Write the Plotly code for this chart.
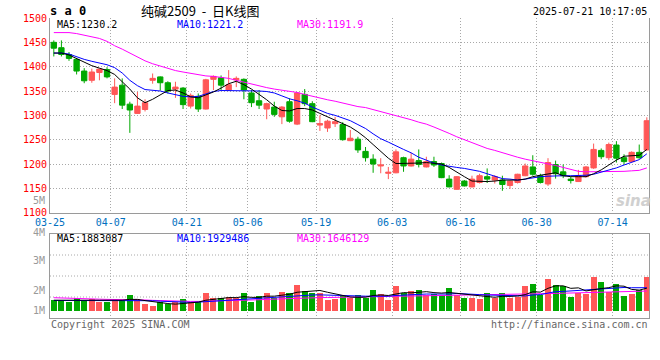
import plotly.graph_objects as go

# ---------------- data ----------------
trade_dates = ["03-25", "03-26", "03-27", "03-28", "03-31", "04-01", "04-02", "04-03",
               "04-07", "04-08", "04-09", "04-10", "04-11", "04-14", "04-15", "04-16",
               "04-17", "04-18", "04-21", "04-22", "04-23", "04-24", "04-25", "04-28",
               "04-29", "04-30", "05-06", "05-07", "05-08", "05-09", "05-12", "05-13",
               "05-14", "05-15", "05-16", "05-19", "05-20", "05-21", "05-22", "05-23",
               "05-26", "05-27", "05-28", "05-29", "05-30", "06-03", "06-04", "06-05",
               "06-06", "06-09", "06-10", "06-11", "06-12", "06-13", "06-16", "06-17",
               "06-18", "06-19", "06-20", "06-23", "06-24", "06-25", "06-26", "06-27",
               "06-30", "07-01", "07-02", "07-03", "07-04", "07-07", "07-08", "07-09",
               "07-10", "07-11", "07-14", "07-15", "07-16", "07-17", "07-18", "07-21"]
candle_dates = trade_dates[1:]

opens = [1450, 1439, 1425, 1415, 1391, 1372, 1388, 1394, 1343, 1362,
         1323, 1304, 1312, 1372, 1379, 1367, 1354, 1356, 1319, 1339,
         1313, 1374, 1377, 1352, 1373, 1374, 1346, 1330, 1313, 1317,
         1297, 1328, 1282, 1343, 1324, 1280, 1274, 1283, 1281, 1248,
         1251, 1226, 1210, 1196, 1181, 1182, 1213, 1196, 1207, 1194,
         1205, 1201, 1169, 1148, 1165, 1153, 1162, 1174, 1167, 1167,
         1156, 1162, 1176, 1194, 1176, 1159, 1199, 1184, 1169, 1164,
         1174, 1192, 1228, 1213, 1239, 1213, 1205, 1224, 1229]
highs = [1454, 1454, 1430, 1418, 1397, 1396, 1396, 1399, 1376, 1376,
         1328, 1348, 1333, 1386, 1380, 1370, 1369, 1358, 1345, 1345,
         1375, 1382, 1382, 1393, 1380, 1376, 1352, 1352, 1326, 1328,
         1319, 1335, 1348, 1354, 1329, 1300, 1291, 1297, 1286, 1270,
         1256, 1235, 1220, 1212, 1194, 1230, 1215, 1223, 1230, 1215,
         1215, 1203, 1177, 1175, 1167, 1176, 1180, 1191, 1177, 1176,
         1166, 1180, 1201, 1218, 1180, 1212, 1207, 1199, 1174, 1188,
         1196, 1242, 1232, 1244, 1247, 1220, 1226, 1240, 1296]
lows = [1421, 1421, 1412, 1384, 1366, 1367, 1372, 1376, 1325, 1313,
        1264, 1303, 1308, 1365, 1351, 1345, 1336, 1313, 1314, 1307,
        1312, 1352, 1352, 1350, 1358, 1333, 1317, 1313, 1292, 1297,
        1282, 1285, 1280, 1319, 1286, 1268, 1266, 1276, 1248, 1247,
        1223, 1205, 1182, 1181, 1169, 1181, 1184, 1195, 1193, 1193,
        1194, 1171, 1152, 1147, 1154, 1152, 1160, 1161, 1160, 1145,
        1149, 1160, 1175, 1176, 1160, 1155, 1170, 1171, 1160, 1163,
        1172, 1190, 1210, 1208, 1203, 1199, 1204, 1211, 1228]
closes = [1438, 1425, 1417, 1391, 1371, 1389, 1395, 1379, 1358, 1321,
          1311, 1319, 1326, 1376, 1367, 1350, 1358, 1322, 1341, 1313,
          1373, 1380, 1362, 1363, 1376, 1352, 1326, 1321, 1324, 1302,
          1317, 1288, 1346, 1324, 1287, 1283, 1288, 1287, 1250, 1253,
          1229, 1213, 1200, 1198, 1183, 1225, 1196, 1210, 1199, 1205,
          1198, 1172, 1153, 1174, 1155, 1169, 1176, 1169, 1174, 1158,
          1165, 1179, 1196, 1179, 1162, 1203, 1180, 1176, 1166, 1176,
          1194, 1230, 1215, 1240, 1212, 1205, 1224, 1213, 1289]

ma5 = [1428, 1428, 1424, 1417, 1410, 1402, 1397, 1392, 1384, 1369,
       1354, 1336, 1326, 1333, 1342, 1351, 1352, 1346, 1338, 1336,
       1342, 1348, 1356, 1365, 1370, 1363, 1354, 1343, 1332, 1319,
       1310, 1309, 1314, 1314, 1311, 1304, 1297, 1290, 1282, 1276,
       1266, 1254, 1240, 1226, 1212, 1201, 1201, 1201, 1202, 1203,
       1202, 1200, 1193, 1183, 1174, 1165, 1164, 1164, 1165, 1167,
       1167, 1167, 1169, 1174, 1177, 1179, 1182, 1176, 1174, 1174,
       1174, 1180, 1188, 1198, 1208, 1216, 1217, 1218, 1230]
ma10 = [1428, 1428, 1426, 1420, 1415, 1411, 1407, 1404, 1398, 1387,
        1372, 1361, 1353, 1351, 1350, 1346, 1343, 1339, 1338, 1339,
        1344, 1349, 1351, 1351, 1351, 1350, 1350, 1350, 1349, 1346,
        1340, 1334, 1330, 1325, 1317, 1310, 1304, 1300, 1295, 1289,
        1281, 1273, 1262, 1252, 1245, 1237, 1230, 1223, 1214, 1208,
        1202, 1198, 1195, 1193, 1191, 1188, 1185, 1180, 1175, 1170,
        1169, 1167, 1169, 1172, 1174, 1175, 1176, 1176, 1176, 1176,
        1177, 1179, 1183, 1187, 1192, 1198, 1203, 1209, 1221]
ma30 = [1470, 1470, 1470, 1468, 1465, 1462, 1458, 1452, 1443, 1436,
        1428, 1420, 1412, 1406, 1401, 1396, 1392, 1389, 1386, 1383,
        1381, 1380, 1378, 1376, 1372, 1368, 1364, 1360, 1357, 1354,
        1352, 1350, 1347, 1343, 1339, 1335, 1332, 1329, 1325, 1322,
        1318, 1316, 1312, 1308, 1304, 1300, 1296, 1291, 1286, 1282,
        1276, 1270, 1263, 1256, 1250, 1244, 1238, 1232, 1228, 1223,
        1219, 1214, 1210, 1207, 1204, 1201, 1197, 1193, 1189, 1185,
        1184, 1184, 1184, 1184, 1185, 1185, 1186, 1187, 1192]

# volume, millions of lots
volumes = [0.90, 0.90, 0.76, 1.04, 0.90, 0.98, 0.76, 0.76, 0.90, 0.90,
           1.32, 0.98, 0.56, 0.39, 0.70, 0.53, 0.70, 0.98, 0.70, 0.76,
           1.51, 1.09, 1.04, 1.15, 1.09, 1.51, 0.76, 1.23, 1.51, 1.04,
           1.57, 1.48, 2.16, 1.65, 1.51, 1.51, 0.90, 0.98, 1.23, 1.09,
           1.32, 1.04, 1.74, 1.40, 0.90, 2.07, 1.51, 1.65, 1.74, 1.32,
           1.37, 1.32, 1.90, 1.32, 1.06, 1.06, 1.01, 1.48, 1.04, 1.48,
           1.04, 1.12, 2.07, 2.24, 1.32, 2.66, 2.16, 2.07, 1.18, 1.51,
           1.37, 2.83, 2.41, 1.60, 2.24, 1.23, 1.43, 1.74, 2.83]
vol_ma5 = [0.88, 0.88, 0.88, 0.90, 0.90, 0.90, 0.86, 0.86, 0.86, 0.88,
           0.95, 0.95, 0.85, 0.76, 0.66, 0.60, 0.55, 0.60, 0.64, 0.72,
           0.88, 0.95, 1.04, 1.10, 1.10, 1.18, 1.12, 1.12, 1.22, 1.22,
           1.30, 1.38, 1.55, 1.58, 1.67, 1.70, 1.55, 1.40, 1.25, 1.15,
           1.12, 1.14, 1.28, 1.32, 1.28, 1.43, 1.52, 1.50, 1.57, 1.60,
           1.52, 1.48, 1.53, 1.45, 1.38, 1.33, 1.27, 1.19, 1.13, 1.21,
           1.20, 1.24, 1.35, 1.59, 1.56, 1.88, 2.09, 2.09, 1.88, 1.92,
           1.66, 1.79, 1.86, 1.94, 2.09, 2.06, 1.79, 1.73, 1.89]
vol_ma10 = [0.86, 0.86, 0.86, 0.86, 0.86, 0.88, 0.88, 0.88, 0.88, 0.88,
            0.90, 0.90, 0.88, 0.84, 0.80, 0.76, 0.72, 0.70, 0.70, 0.72,
            0.76, 0.80, 0.84, 0.90, 0.95, 1.00, 1.02, 1.05, 1.08, 1.12,
            1.18, 1.22, 1.28, 1.30, 1.32, 1.33, 1.30, 1.28, 1.27, 1.25,
            1.24, 1.22, 1.22, 1.20, 1.22, 1.28, 1.32, 1.34, 1.40, 1.40,
            1.40, 1.38, 1.40, 1.45, 1.40, 1.38, 1.35, 1.32, 1.30, 1.30,
            1.27, 1.24, 1.24, 1.32, 1.35, 1.48, 1.60, 1.62, 1.66, 1.68,
            1.72, 1.78, 1.82, 1.88, 1.92, 1.95, 1.93, 1.92, 1.93]
vol_ma30 = [1.09, 1.08, 1.07, 1.06, 1.04, 1.00, 0.97, 0.95, 0.95, 0.94,
            0.93, 0.92, 0.90, 0.87, 0.84, 0.81, 0.80, 0.79, 0.78, 0.78,
            0.79, 0.80, 0.82, 0.84, 0.86, 0.88, 0.90, 0.92, 0.95, 0.98,
            1.00, 1.02, 1.04, 1.06, 1.08, 1.10, 1.11, 1.12, 1.13, 1.14,
            1.15, 1.16, 1.17, 1.18, 1.19, 1.20, 1.22, 1.23, 1.24, 1.25,
            1.26, 1.27, 1.28, 1.29, 1.30, 1.30, 1.31, 1.31, 1.32, 1.32,
            1.33, 1.34, 1.36, 1.38, 1.40, 1.43, 1.45, 1.47, 1.49, 1.51,
            1.53, 1.55, 1.57, 1.59, 1.60, 1.61, 1.62, 1.63, 1.65]

tick_labels = ["03-25", "04-07", "04-21", "05-06", "05-19", "06-03", "06-16", "06-30", "07-14"]
price_ticks = [1100, 1150, 1200, 1250, 1300, 1350, 1400, 1450, 1500]
vol_axis_labels = [("5M", 200.7), ("4M", 232.0), ("3M", 260.7), ("2M", 290.0), ("1M", 310.7)]

price_legend = [("MA5:1230.2", "#000000"), ("MA10:1221.2", "#0000FF"), ("MA30:1191.9", "#FF00FF")]
vol_legend = [("MA5:1883087", "#000000"), ("MA10:1929486", "#0000FF"), ("MA30:1646129", "#FF00FF")]

# ---------------- style ----------------
RED = "#FF5757"
GREEN = "#00A800"
GRID = "#A8A8A8"
FRAME = "#9A9A9A"
MONO = "DejaVu Sans Mono"
DOT = "1px,2px"

W, H = 660, 360
L, R, T, B = 50, 11, 18, 42
PW, PH = W - L - R, H - T - B
PITCH = 7.603  # pixels per trading day


def px(x):
    return (x - L) / PW


def py(y):
    return (H - B - y) / PH


x = [trade_dates.index(d) for d in candle_dates]
tick_pos = [trade_dates.index(d) + 0.5 for d in tick_labels]
x_range = [0.5, 0.5 + PW / PITCH]

fig = go.Figure()

fig.add_trace(go.Candlestick(
    x=x, open=opens, high=highs, low=lows, close=closes,
    increasing=dict(line=dict(color=RED, width=1), fillcolor=RED),
    decreasing=dict(line=dict(color=GREEN, width=1), fillcolor=GREEN),
    whiskerwidth=0, xaxis="x", yaxis="y", hoverinfo="skip",
))
for series, color in [(ma30, "#FF00FF"), (ma10, "#0000FF"), (ma5, "#000000")]:
    fig.add_trace(go.Scatter(x=x, y=series, mode="lines", line=dict(color=color, width=1),
                             xaxis="x", yaxis="y", hoverinfo="skip"))

vol_colors = [RED if c >= o else GREEN for o, c in zip(opens, closes)]
fig.add_trace(go.Bar(x=x, y=volumes, marker=dict(color=vol_colors, line=dict(width=0)),
                     width=0.79, xaxis="x2", yaxis="y2", hoverinfo="skip"))
for series, color in [(vol_ma30, "#FF00FF"), (vol_ma10, "#0000FF"), (vol_ma5, "#000000")]:
    fig.add_trace(go.Scatter(x=x, y=series, mode="lines", line=dict(color=color, width=1),
                             xaxis="x2", yaxis="y2", hoverinfo="skip"))

price_top, price_bot = 18.0, 212.7
vol_top, vol_bot, vol_base = 234.0, 318.0, 310.7
VOL_PX = 11.9  # pixels per million lots

axis_common = dict(showgrid=True, gridcolor=GRID, gridwidth=1, griddash=DOT,
                   zeroline=False, ticks="", automargin=False,
                   showline=True, linecolor=FRAME, linewidth=1)

fig.update_layout(
    template="none",
    width=W, height=H,
    margin=dict(l=L, r=R, t=T, b=B, pad=0),
    paper_bgcolor="white", plot_bgcolor="white",
    showlegend=False,
    boxgap=0.3, boxgroupgap=0,
    bargap=0,
    xaxis=dict(axis_common, domain=[0, 1], range=x_range, anchor="y",
               tickmode="array", tickvals=tick_pos, ticktext=tick_labels,
               tickfont=dict(family=MONO, size=10, color="#0070C0"),
               rangeslider=dict(visible=False), mirror=False),
    yaxis=dict(axis_common, domain=[py(price_bot), py(price_top)], range=[1100, 1500],
               tickmode="array", tickvals=price_ticks,
               tickfont=dict(family=MONO, size=10, color="#FF0000"),
               mirror=True),
    xaxis2=dict(axis_common, domain=[0, 1], range=x_range, anchor="y2",
                tickmode="array", tickvals=tick_pos, showticklabels=False, mirror=True),
    yaxis2=dict(axis_common, domain=[py(vol_bot), py(vol_top)],
                range=[-(vol_bot - vol_base) / VOL_PX, (vol_base - vol_top) / VOL_PX],
                showgrid=False, showticklabels=False, mirror=True),
)

# volume panel horizontal dotted guides (quarters of the panel)
for frac in (0.25, 0.5, 0.75):
    fig.add_shape(type="line", xref="x2 domain", yref="y2 domain", x0=0, x1=1, y0=frac, y1=frac,
                  line=dict(color=GRID, width=1, dash=DOT), layer="below")

anns = []


def ann(text, x_px, y_px, color, size=10, xanchor="left", family=MONO):
    anns.append(dict(text=text, x=px(x_px), y=py(y_px), xref="paper", yref="paper",
                     xanchor=xanchor, yanchor="middle", showarrow=False,
                     font=dict(family=family, size=size, color=color)))


NB = "\u00a0"
ann("<b>s a 0</b>", 48, 11.5, "#000000", size=12)
ann("纯碱2509" + NB + NB + "-" + NB + NB + "日K线图", 200, 10, "#000000", size=13,
    xanchor="center", family="Noto Sans CJK SC")
ann("2025-07-21 10:17:05", 649, 12, "#000000", xanchor="right")

for (txt, col), xp in zip(price_legend, (55, 175, 295)):
    ann(txt, xp, 24.5, col)
for (txt, col), xp in zip(vol_legend, (55, 175, 295)):
    ann(txt, xp, 238.5, col)
for txt, yp in vol_axis_labels:
    ann(txt, 47, yp, "#999999", xanchor="right")

ann("Copyright 2025 SINA.COM", 49, 324.5, "#666666")
ann("http://finance.sina.com.cn", 650, 324.5, "#666666", xanchor="right")
ann("<b><i>sina</i></b>", 633, 201, "#D0D0D0", size=15, xanchor="center", family="DejaVu Sans")

fig.update_layout(annotations=anns)

fig.write_html("out.html",
               config={"displayModeBar": False, "staticPlot": True},
               post_script="document.body.style.margin='0';document.body.style.padding='0';"
                           "document.documentElement.style.overflow='hidden';")
